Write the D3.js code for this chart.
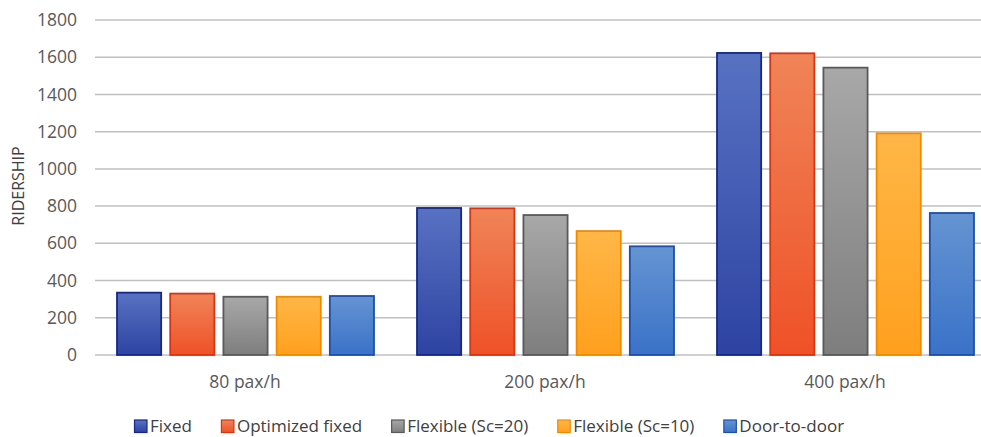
<!DOCTYPE html>
<html><head><meta charset="utf-8">
<script src="https://cdn.jsdelivr.net/npm/d3@7"></script>
<style>body{margin:0;background:#fff;} svg{display:block;}</style>
</head><body><svg id="c" width="981" height="437"></svg>
<script>
const categories = ["80 pax/h", "200 pax/h", "400 pax/h"];
const seriesNames = ["Fixed", "Optimized fixed", "Flexible (Sc=20)", "Flexible (Sc=10)", "Door-to-door"];
const fixed      = [335, 790, 1623];
const optFixed   = [330, 788, 1621];
const flex20     = [313, 752, 1544];
const flex10     = [313, 666, 1191];
const doorToDoor = [317, 584, 763];
const yTicks = [0, 200, 400, 600, 800, 1000, 1200, 1400, 1600, 1800];

const seriesValues = [fixed, optFixed, flex20, flex10, doorToDoor];
const colors = [
  {top:"#5872c2", bot:"#2e43a2", stroke:"#15288a"},
  {top:"#f08458", bot:"#ef5127", stroke:"#d73414"},
  {top:"#a8a8a8", bot:"#7e7e7e", stroke:"#595959"},
  {top:"#ffb747", bot:"#ffa01e", stroke:"#f28a00"},
  {top:"#6594d2", bot:"#3a72c8", stroke:"#1e4faa"}
];

const svg = d3.select("#c");
const font = "'Open Sans', sans-serif";
const defs = svg.append("defs");
colors.forEach((c,i)=>{
  const g = defs.append("linearGradient").attr("id","g"+i).attr("x1",0).attr("y1",0).attr("x2",0).attr("y2",1);
  g.append("stop").attr("offset","0%").attr("stop-color",c.top);
  g.append("stop").attr("offset","100%").attr("stop-color",c.bot);
});

const y = d3.scaleLinear().domain([0,1800]).range([355,20]);
const x0 = d3.scaleBand().domain(categories).range([95,995]);
const x1 = d3.scaleBand().domain(seriesNames).range([22,279]).paddingInner(0.17);

// gridlines
svg.append("g").selectAll("line").data(yTicks).join("line")
  .attr("x1",95).attr("x2",981).attr("y1",d=>y(d)).attr("y2",d=>y(d))
  .attr("stroke","#c0c0c0").attr("stroke-width",1.5);

// y labels
svg.append("g").selectAll("text").data(yTicks).join("text")
  .attr("x",77).attr("y",d=>y(d)).attr("dy","0.35em").attr("text-anchor","end")
  .attr("font-family",font).attr("font-size",17.5).attr("fill","#595959").text(d=>d);

svg.append("text").attr("transform","translate(24,186) rotate(-90)")
  .attr("text-anchor","middle").attr("font-family",font).attr("font-size",16).attr("fill","#404040")
  .text("RIDERSHIP");

// bars
const groups = svg.append("g").selectAll("g").data(categories).join("g")
  .attr("transform",d=>`translate(${x0(d)},0)`);
groups.selectAll("rect").data((d,ci)=>seriesNames.map((s,si)=>({s,si,v:seriesValues[si][ci]}))).join("rect")
  .attr("x",d=>x1(d.s)).attr("width",x1.bandwidth())
  .attr("y",d=>y(d.v)).attr("height",d=>y(0)-y(d.v))
  .attr("fill",d=>`url(#g${d.si})`).attr("stroke",d=>colors[d.si].stroke).attr("stroke-width",1.8);

// x labels
svg.append("g").selectAll("text").data(categories).join("text")
  .attr("x",d=>x0(d)+x0.bandwidth()/2).attr("y",382).attr("dy","0.35em").attr("text-anchor","middle")
  .attr("font-family",font).attr("font-size",17.5).attr("fill","#595959").text(d=>d);

// legend
const leg = svg.append("g");
let lx = 134;
seriesNames.forEach((s,i)=>{
  leg.append("rect").attr("x",lx+0.5).attr("y",420).attr("width",12.5).attr("height",12.5)
    .attr("fill",`url(#g${i})`).attr("stroke",colors[i].stroke).attr("stroke-width",1.2);
  const t = leg.append("text").attr("x",lx+16).attr("y",426).attr("dy","0.35em")
    .attr("font-family",font).attr("font-size",17).attr("fill","#404040").text(s);
  lx += 16 + t.node().getComputedTextLength() + 29;
});
</script></body></html>
